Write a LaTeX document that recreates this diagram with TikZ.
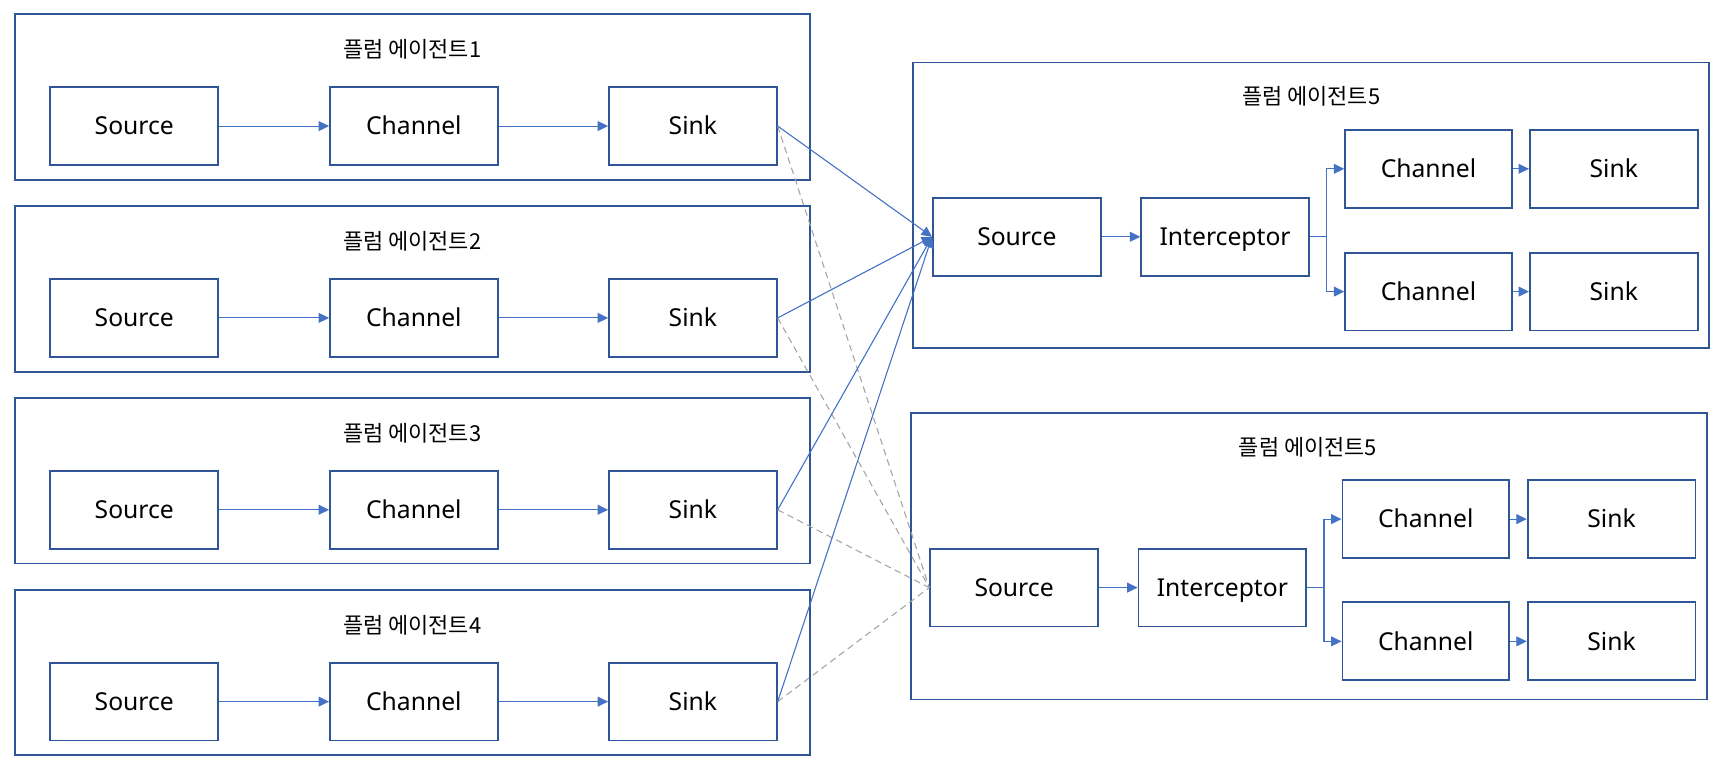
\documentclass[tikz,border=0pt]{standalone}
\usepackage{fontspec}
\setmainfont{Noto Sans}
\newfontfamily\kr{Noto Sans CJK KR}
\usetikzlibrary{arrows.meta}
\definecolor{boxblue}{HTML}{2F5597}
\definecolor{lineblue}{HTML}{4472C4}
\definecolor{dashgray}{HTML}{A6A6A6}
\begin{document}
\begin{tikzpicture}[x=1pt,y=-1pt,
  agentbox/.style={draw=boxblue,line width=1.7pt,inner sep=0pt},
  comp/.style={draw=boxblue,line width=1.7pt,minimum width=153pt,minimum height=71pt,inner sep=0pt,
    text height=16pt,text depth=0pt,font=\fontsize{22.5}{27}\selectfont},
  ttl/.style={font=\kr\fontsize{20}{24}\selectfont,inner sep=0pt},
  arr/.style={draw=lineblue,line width=1pt,-{Triangle[length=9.5pt,width=9pt]}},
  dsh/.style={draw=dashgray,line width=1pt,dash pattern=on 6pt off 4pt}]
\useasboundingbox (0,0) rectangle (1568,708);
\fill[white] (0,0) rectangle (1568,708);

% left agents
\foreach \i/\y in {1/115,2/290,3/465,4/640}{
  \node[agentbox,minimum width=725pt,minimum height=151pt] (ag\i) at (376.5,\y-26.5) {};
  \node[ttl] (t\i) at (376,\y-70) {플럼 에이전트\i};
  \node[comp] (src\i) at (122.5,\y) {Source};
  \node[comp] (ch\i) at (377.5,\y) {Channel};
  \node[comp] (sk\i) at (632,\y) {Sink};
  \draw[arr] (src\i) -- (ch\i);
  \draw[arr] (ch\i) -- (sk\i);
}

% agent 5a
\node[agentbox,minimum width=726pt,minimum height=260.5pt] (agA) at (1196,187.25) {};
\node[ttl] (tA) at (1196,88) {플럼 에이전트5};
\node[comp] (srcA) at (927.5,216) {Source};
\node[comp] (intA) at (1117.5,216) {Interceptor};
\node[comp,minimum width=152pt] (chA1) at (1303,154) {Channel};
\node[comp,minimum width=152pt] (chA2) at (1303,266) {Channel};
\node[comp] (skA1) at (1472,154) {Sink};
\node[comp] (skA2) at (1472,266) {Sink};
\draw[arr] (srcA) -- (intA);
\draw[arr] (intA.east) -| ([xshift=-16pt]chA1.west) -- (chA1.west);
\draw[arr] (intA.east) -| ([xshift=-16pt]chA2.west) -- (chA2.west);
\draw[arr] (chA1) -- (skA1);
\draw[arr] (chA2) -- (skA2);

% agent 5b
\node[agentbox,minimum width=726pt,minimum height=261pt] (agB) at (1194,507.5) {};
\node[ttl] (tB) at (1193,408) {플럼 에이전트5};
\node[comp] (srcB) at (925,536) {Source};
\node[comp] (intB) at (1115,536) {Interceptor};
\node[comp,minimum width=152pt] (chB1) at (1300.5,473.5) {Channel};
\node[comp,minimum width=152pt] (chB2) at (1300.5,585) {Channel};
\node[comp] (skB1) at (1470,473.5) {Sink};
\node[comp] (skB2) at (1470,585) {Sink};
\draw[arr] (srcB) -- (intB);
\draw[arr] (intB.east) -| ([xshift=-16pt]chB1.west) -- (chB1.west);
\draw[arr] (intB.east) -| ([xshift=-16pt]chB2.west) -- (chB2.west);
\draw[arr] (chB1) -- (skB1);
\draw[arr] (chB2) -- (skB2);

% cross connectors
\foreach \i in {1,2,3,4}{
  \draw[dsh] (sk\i.east) -- (srcB.west);
}
\foreach \i in {1,2,3,4}{
  \draw[arr] (sk\i.east) -- (srcA.west);
}
\end{tikzpicture}
\end{document}
